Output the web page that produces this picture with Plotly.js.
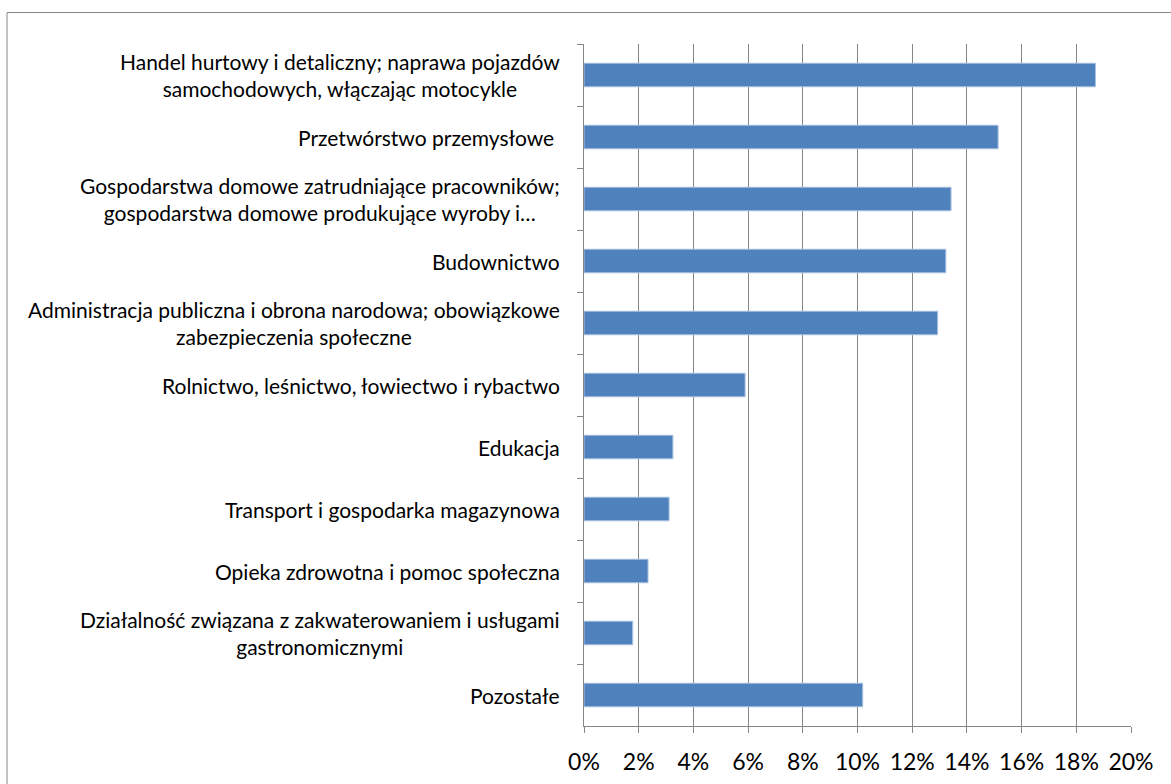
<!DOCTYPE html>
<html>
<head>
<meta charset="utf-8">
<script src="https://cdn.plot.ly/plotly-3.0.1.min.js"></script>
<style>html,body{margin:0;padding:0;background:#fff;}#chart{width:1171px;height:784px;}</style>
</head>
<body>
<div id="chart"></div>
<script>
const categories = [
  "Handel hurtowy i detaliczny; naprawa pojazdów<br>samochodowych, włączając motocykle",
  "Przetwórstwo przemysłowe ",
  "Gospodarstwa domowe zatrudniające pracowników;<br>gospodarstwa domowe produkujące wyroby i…",
  "Budownictwo",
  "Administracja publiczna i obrona narodowa; obowiązkowe<br>zabezpieczenia społeczne",
  "Rolnictwo, leśnictwo, łowiectwo i rybactwo",
  "Edukacja",
  "Transport i gospodarka magazynowa",
  "Opieka zdrowotna i pomoc społeczna",
  "Działalność związana z zakwaterowaniem i usługami<br>gastronomicznymi",
  "Pozostałe"
];
const shares = [0.1870, 0.1514, 0.1342, 0.1323, 0.1293, 0.0589, 0.0325, 0.0311, 0.0234, 0.0178, 0.1019];
const xTickValues = [0, 0.02, 0.04, 0.06, 0.08, 0.10, 0.12, 0.14, 0.16, 0.18, 0.20];
const xTickLabels = ["0%", "2%", "4%", "6%", "8%", "10%", "12%", "14%", "16%", "18%", "20%"];

const gray = '#868686';
const labelFont = {family: 'Lato, "Open Sans", sans-serif', size: 21, color: '#000'};

const trace = {
  type: 'bar',
  orientation: 'h',
  x: shares,
  y: categories,
  marker: {color: '#4F81BD', line: {color: '#A7C0DE', width: 1}},
  hoverinfo: 'x+y'
};

const annotations = categories.map(c => ({
  xref: 'paper', yref: 'y',
  x: -0.040, y: c,
  xanchor: 'right', yanchor: 'middle',
  align: 'center',
  text: c,
  showarrow: false,
  font: labelFont
}));

const layout = {
  width: 1171, height: 784,
  margin: {l: 584, r: 40, t: 44, b: 58, pad: 0},
  paper_bgcolor: '#fff', plot_bgcolor: '#fff',
  showlegend: false,
  bargap: 0.62,
  xaxis: {
    range: [0, 0.2],
    tickvals: xTickValues,
    ticktext: xTickLabels,
    showgrid: true, gridcolor: gray, gridwidth: 1,
    zeroline: false,
    showline: true, linecolor: gray, linewidth: 1,
    ticks: 'outside', ticklen: 6, tickcolor: gray, tickwidth: 1,
    ticklabelstandoff: 9,
    tickfont: {family: 'Lato, "Open Sans", sans-serif', size: 23, color: '#000'},
    fixedrange: true
  },
  yaxis: {
    type: 'category',
    autorange: 'reversed',
    showticklabels: false,
    showgrid: false, zeroline: false,
    showline: true, linecolor: gray, linewidth: 1,
    ticks: 'outside', ticklen: 6, tickcolor: gray, tickwidth: 1,
    tickson: 'boundaries',
    fixedrange: true
  },
  annotations: annotations,
  shapes: [{
    type: 'rect', xref: 'paper', yref: 'paper',
    x0: (7 - 584) / 547, x1: 1.3,
    y0: -0.3, y1: (726 - 12.5) / 682,
    line: {color: gray, width: 1}, fillcolor: 'rgba(0,0,0,0)', layer: 'below'
  }]
};

Plotly.newPlot('chart', [trace], layout, {displayModeBar: false, staticPlot: true});
</script>
</body>
</html>
